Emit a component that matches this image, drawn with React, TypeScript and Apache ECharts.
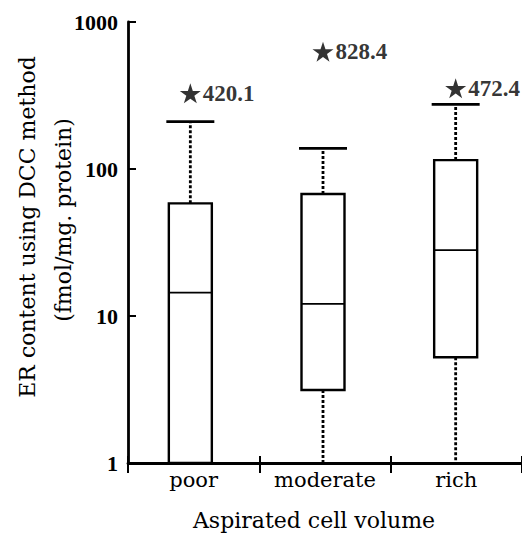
import React, { useEffect, useRef } from "react";
import * as echarts from "echarts";

const categories = ["poor", "moderate", "rich"];
const whiskerLow = [1, 1, 1];
const q1 = [1, 3.14, 5.24];
const median = [14.4, 12.1, 28.1];
const q3 = [58.4, 67.6, 115];
const whiskerHigh = [210, 138, 275];
const outlierPos = [327, 628, 354];
const outlierLabels = ["420.1", "828.4", "472.4"];
const yTicks = [1, 10, 100, 1000];

const INK = "#000";
const WORD_FONT = "DejaVu Serif";
const NUM_FONT = "Liberation Serif";

export default function App() {
  const ref = useRef<HTMLDivElement>(null);

  useEffect(() => {
    if (!ref.current) return;
    const chart = echarts.init(ref.current, null, { renderer: "svg" });

    const boxData = categories.map((_, i) => [
      i,
      whiskerLow[i],
      q1[i],
      median[i],
      q3[i],
      whiskerHigh[i],
    ]);
    const starData = categories.map((_, i) => [i, outlierPos[i]]);

    const renderItem = (params: any, api: any) => {
      const idx = api.value(0);
      const pLo = api.coord([idx, api.value(1)]);
      const pQ1 = api.coord([idx, api.value(2)]);
      const pMed = api.coord([idx, api.value(3)]);
      const pQ3 = api.coord([idx, api.value(4)]);
      const pHi = api.coord([idx, api.value(5)]);
      const x = pQ3[0];
      const bw = 43;
      const cw = 48;
      const children: any[] = [];
      children.push({
        type: "line",
        shape: { x1: x, y1: pQ3[1], x2: x, y2: pHi[1] },
        style: { stroke: INK, lineWidth: 2.8, lineDash: [3, 2] },
      });
      if (pLo[1] - pQ1[1] > 1) {
        children.push({
          type: "line",
          shape: { x1: x, y1: pQ1[1], x2: x, y2: pLo[1] },
          style: { stroke: INK, lineWidth: 2.8, lineDash: [3, 2] },
        });
      }
      children.push({
        type: "line",
        shape: { x1: x - cw / 2, y1: pHi[1], x2: x + cw / 2, y2: pHi[1] },
        style: { stroke: INK, lineWidth: 2.8 },
      });
      children.push({
        type: "rect",
        shape: { x: x - bw / 2, y: pQ3[1], width: bw, height: pQ1[1] - pQ3[1] },
        style: { fill: "#fff", stroke: INK, lineWidth: 2.4 },
      });
      children.push({
        type: "line",
        shape: { x1: x - bw / 2, y1: pMed[1], x2: x + bw / 2, y2: pMed[1] },
        style: { stroke: INK, lineWidth: 1.8 },
      });
      return { type: "group", children };
    };

    chart.setOption({
      animation: false,
      backgroundColor: "#fff",
      grid: [
        { left: 128, right: -5, top: 22, bottom: 71, containLabel: false },
        { left: 124, right: -1, top: 22, bottom: 71, containLabel: false },
      ],
      xAxis: [
        {
          type: "category",
          gridIndex: 0,
          position: "bottom",
          data: categories,
          boundaryGap: true,
          axisLine: { show: true, lineStyle: { color: INK, width: 2.8 } },
          axisTick: { show: true, inside: false, length: 10, lineStyle: { color: INK, width: 2 } },
          axisLabel: {
            show: true,
            interval: 0,
            hideOverlap: false,
            margin: 6,
            color: INK,
            fontFamily: WORD_FONT,
            fontSize: 21,
          },
          splitLine: { show: false },
        },
        {
          type: "category",
          gridIndex: 0,
          position: "bottom",
          data: categories,
          boundaryGap: true,
          axisLine: { show: false },
          axisTick: { show: true, inside: true, length: 7, lineStyle: { color: INK, width: 2 } },
          axisLabel: { show: false },
          splitLine: { show: false },
        },
        {
          type: "category",
          gridIndex: 1,
          data: categories,
          boundaryGap: true,
          show: false,
        },
      ],
      yAxis: [
        {
          type: "log",
          gridIndex: 0,
          logBase: 10,
          min: yTicks[0],
          max: yTicks[yTicks.length - 1],
          splitNumber: 3,
          axisLine: { show: true, lineStyle: { color: INK, width: 2.8 } },
          axisTick: { show: true, inside: true, length: 8, lineStyle: { color: INK, width: 2 } },
          axisLabel: {
            show: true,
            margin: 10,
            color: INK,
            fontFamily: NUM_FONT,
            fontWeight: "bold",
            fontSize: 22,
            formatter: (v: number) => String(Math.round(v)),
          },
          splitLine: { show: false },
          minorTick: { show: false },
        },
        {
          type: "log",
          gridIndex: 1,
          logBase: 10,
          min: yTicks[0],
          max: yTicks[yTicks.length - 1],
          show: false,
          splitLine: { show: false },
        },
      ],
      graphic: [
        {
          type: "text",
          x: 27,
          y: 227,
          rotation: Math.PI / 2,
          style: {
            text: "ER content using DCC method",
            fill: INK,
            font: `22px "${WORD_FONT}"`,
            align: "center",
            verticalAlign: "middle",
          },
        },
        {
          type: "text",
          x: 63,
          y: 220,
          rotation: Math.PI / 2,
          style: {
            text: "(fmol/mg. protein)",
            fill: INK,
            font: `22px "${WORD_FONT}"`,
            align: "center",
            verticalAlign: "middle",
          },
        },
        {
          type: "text",
          x: 314,
          y: 520,
          style: {
            text: "Aspirated cell volume",
            fill: INK,
            font: `22px "${WORD_FONT}"`,
            align: "center",
            verticalAlign: "middle",
          },
        },
      ],
      series: [
        {
          type: "custom",
          xAxisIndex: 2,
          yAxisIndex: 1,
          data: boxData,
          encode: { x: 0, y: [1, 2, 3, 4, 5] },
          renderItem,
          z: 3,
        },
        {
          type: "scatter",
          xAxisIndex: 2,
          yAxisIndex: 1,
          data: starData,
          symbol:
            "path://M50,0 L61.2,34.5 L97.6,34.5 L68.2,55.9 L79.4,90.5 L50,69.1 L20.6,90.5 L31.8,55.9 L2.4,34.5 L38.8,34.5 Z",
          symbolSize: [21, 20],
          itemStyle: { color: INK },
          label: {
            show: true,
            position: "right",
            distance: 2,
            color: INK,
            fontFamily: NUM_FONT,
            fontWeight: "bold",
            fontSize: 23,
            formatter: (p: any) => outlierLabels[p.dataIndex],
          },
          z: 4,
        },
      ],
    });

    return () => chart.dispose();
  }, []);

  return (
    <div
      ref={ref}
      style={{ position: "fixed", left: 0, top: 0, width: 522, height: 534, background: "#fff" }}
    />
  );
}
